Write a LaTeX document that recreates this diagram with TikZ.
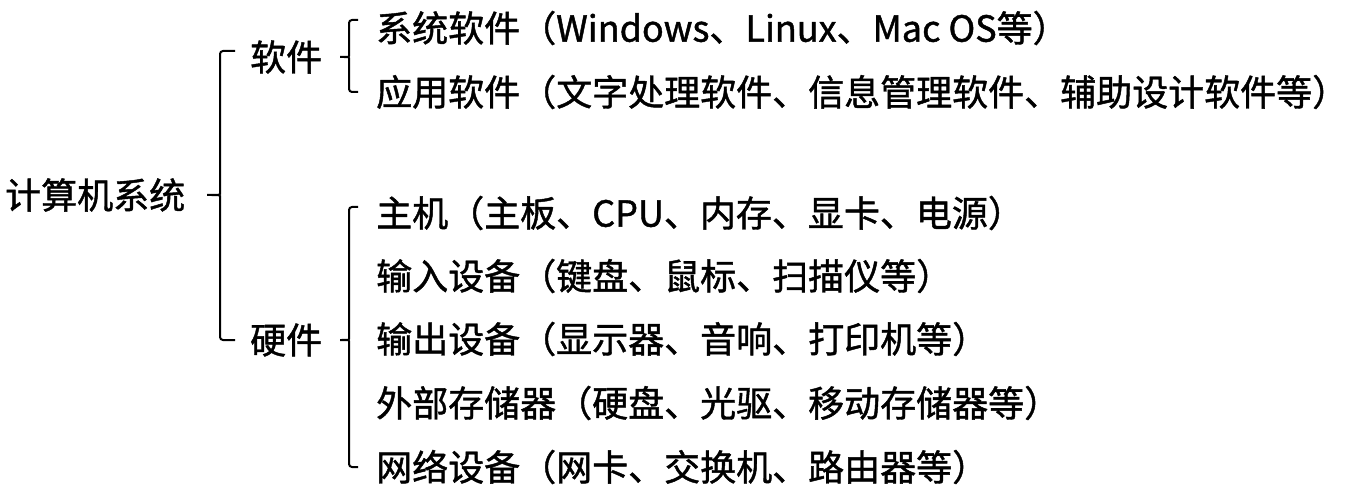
\documentclass[tikz,border=0pt]{standalone}
\usepackage{fontspec}
\setmainfont{Noto Sans CJK SC}[FakeBold=1.2]
\usetikzlibrary{calc}
\tikzset{
    item/.style={anchor=west, inner sep=0pt, font=\fontsize{36}{40}\selectfont},
    brace/.style={line width=2pt, rounded corners=3pt}
}

\begin{document}
\begin{tikzpicture}[x=1pt, y=1pt]
        \useasboundingbox (0, 0) rectangle (1352, -494);

        \node[item] (sys) at (5, -195) {计算机系统};

        \node[item] (sw) at (250, -57) {软件};
        \node[item] (hw) at (250, -340) {硬件};

        \node[item] (s1) at (376, -28) {系统软件（Windows、Linux、Mac OS等）};
        \node[item] (s2) at (376, -92) {应用软件（文字处理软件、信息管理软件、辅助设计软件等）};

        \node[item] (h1) at (376, -213) {主机（主板、CPU、内存、显卡、电源）};
        \node[item] (h2) at (376, -276) {输入设备（键盘、鼠标、扫描仪等）};
        \node[item] (h3) at (376, -339) {输出设备（显示器、音响、打印机等）};
        \node[item] (h4) at (376, -403) {外部存储器（硬盘、光驱、移动存储器等）};
        \node[item] (h5) at (376, -467) {网络设备（网卡、交换机、路由器等）};

        % brace of the whole system
        \draw[brace] ($(sw.west)+(-15, 6)$) -- ($(sw.west)+(-30, 6)$)
            -- ($(sw.west |- sys.east)+(-30, 4)$)
            .. controls ($(sw.west |- sys.east)+(-30, 0)$) .. ($(sys.east)+(20, 0)$)
            .. controls ($(sw.west |- sys.east)+(-30, 0)$) .. ($(sw.west |- sys.east)+(-30, -4)$)
            -- ($(hw.west)+(-30, 0)$) -- ($(hw.west)+(-15, 0)$);

        % brace of the software
        \draw[brace] ($(s1.west)+(-18, 8)$) -- ($(s1.west)+(-27, 8)$)
            -- ($(s1.west |- sw.east)+(-27, 4)$)
            .. controls ($(s1.west |- sw.east)+(-27, 0)$) .. ($(sw.east)+(16, 0)$)
            .. controls ($(s1.west |- sw.east)+(-27, 0)$) .. ($(s1.west |- sw.east)+(-27, -4)$)
            -- ($(s2.west)+(-27, 0)$) -- ($(s2.west)+(-18, 0)$);

        % brace of the hardware
        \draw[brace] ($(h1.west)+(-18, 6)$) -- ($(h1.west)+(-27, 6)$)
            -- ($(h1.west |- hw.east)+(-27, 4)$)
            .. controls ($(h1.west |- hw.east)+(-27, 0)$) .. ($(hw.east)+(16, 0)$)
            .. controls ($(h1.west |- hw.east)+(-27, 0)$) .. ($(h1.west |- hw.east)+(-27, -4)$)
            -- ($(h5.west)+(-27, 0)$) -- ($(h5.west)+(-18, 0)$);
\end{tikzpicture}
\end{document}
